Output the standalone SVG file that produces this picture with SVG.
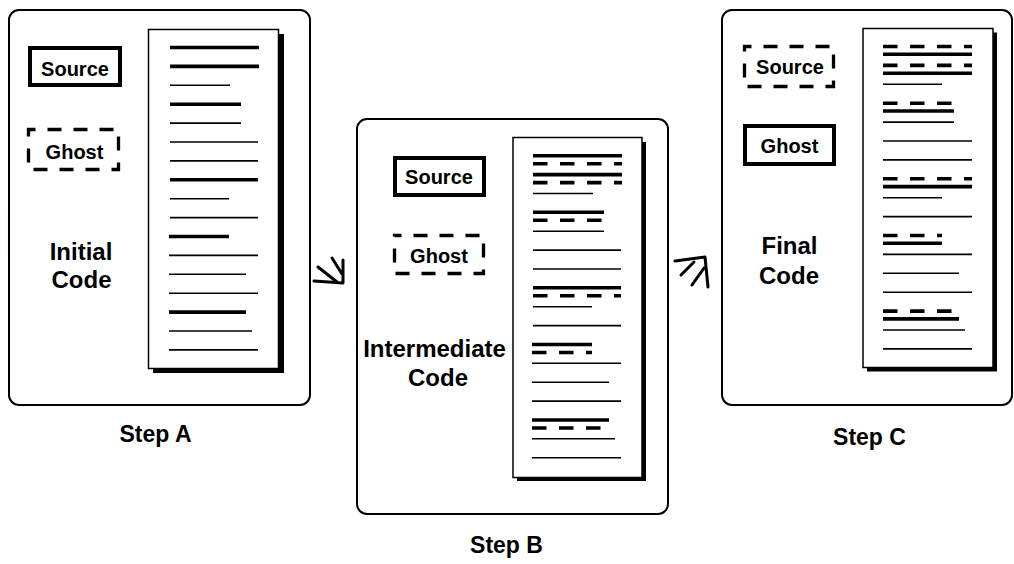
<svg xmlns="http://www.w3.org/2000/svg" width="1014" height="564" viewBox="0 0 1014 564">
  <style>
    .frame { fill: #fff; stroke: #000; stroke-width: 2; }
    .page { fill: #fff; stroke: #000; stroke-width: 1.5; }
    .shadow { fill: #000; }
    .solidbox { fill: #fff; stroke: #000; stroke-width: 4; }
    .dashbox { fill: #fff; stroke: #000; stroke-width: 3.3; stroke-dasharray: 14 12; stroke-dashoffset: 7; }
    .thick { stroke: #000; stroke-width: 3.6; }
    .thin { stroke: #000; stroke-width: 1.6; }
    .dash { stroke: #000; stroke-width: 3.6; stroke-dasharray: 14.5 12.5; }
    .t { font-family: "Liberation Sans", Arial, Helvetica, sans-serif; font-weight: bold; fill: #000; text-anchor: middle; }
    .box { font-size: 20px; }
    .big { font-size: 24px; }
    .cap { font-size: 23px; }
    .arrow { fill: none; stroke: #000; stroke-width: 3; stroke-linecap: round; stroke-linejoin: round; }
  </style>
  <rect width="1014" height="564" fill="#fff"/>

  <!-- Step A: initial code -->
  <g id="step-a">
    <rect class="frame" x="9" y="10" width="301" height="395" rx="10"/>
    <rect class="solidbox" x="30" y="48" width="90" height="37"/>
    <text class="t box" x="75" y="76">Source</text>
    <rect class="dashbox" x="28.5" y="129.5" width="90" height="40"/>
    <text class="t box" x="74.5" y="159">Ghost</text>
    <text class="t big" x="81" y="260">Initial</text>
    <text class="t big" x="81.5" y="288">Code</text>
    <rect class="shadow" x="153" y="34" width="131" height="339"/>
    <rect class="page" x="148.5" y="29.5" width="130" height="339"/>
    <g>
      <line class="thick" x1="170" y1="47.5" x2="259" y2="47.5"/>
      <line class="thick" x1="170" y1="66.4" x2="259" y2="66.4"/>
      <line class="thin" x1="170" y1="85.3" x2="230" y2="85.3"/>
      <line class="thick" x1="170" y1="104.2" x2="241" y2="104.2"/>
      <line class="thin" x1="170" y1="123.1" x2="241" y2="123.1"/>
      <line class="thin" x1="170" y1="142" x2="258" y2="142"/>
      <line class="thin" x1="170" y1="160.9" x2="258" y2="160.9"/>
      <line class="thick" x1="170" y1="179.8" x2="258" y2="179.8"/>
      <line class="thin" x1="170" y1="198.7" x2="229" y2="198.7"/>
      <line class="thin" x1="170" y1="217.6" x2="258" y2="217.6"/>
      <line class="thick" x1="169" y1="236.5" x2="229" y2="236.5"/>
      <line class="thin" x1="169" y1="255.4" x2="258" y2="255.4"/>
      <line class="thin" x1="169" y1="274.3" x2="246" y2="274.3"/>
      <line class="thin" x1="169" y1="293.2" x2="258" y2="293.2"/>
      <line class="thick" x1="169" y1="312.1" x2="246" y2="312.1"/>
      <line class="thin" x1="169" y1="331" x2="252" y2="331"/>
      <line class="thin" x1="169" y1="349.9" x2="258" y2="349.9"/>
    </g>
    <text class="t cap" x="155.5" y="442">Step A</text>
  </g>

  <!-- Step B: intermediate code -->
  <g id="step-b">
    <rect class="frame" x="357" y="119" width="311" height="395" rx="10"/>
    <rect class="solidbox" x="395" y="158" width="89" height="37"/>
    <text class="t box" x="439" y="184">Source</text>
    <rect class="dashbox" x="394.5" y="235.5" width="89" height="38"/>
    <text class="t box" x="439" y="263">Ghost</text>
    <text class="t big" x="434.5" y="357">Intermediate</text>
    <text class="t big" x="438" y="386">Code</text>
    <rect class="shadow" x="517" y="142" width="129" height="339"/>
    <rect class="page" x="513" y="137.5" width="129" height="340"/>
    <g>
      <line class="thick" x1="533" y1="155.7" x2="622" y2="155.7"/>
      <line class="dash" x1="533" y1="163.7" x2="622" y2="163.7"/>
      <line class="thick" x1="533" y1="174.6" x2="622" y2="174.6"/>
      <line class="dash" x1="533" y1="182.6" x2="622" y2="182.6"/>
      <line class="thin" x1="533" y1="193.5" x2="593" y2="193.5"/>
      <line class="thick" x1="533" y1="212.3" x2="604" y2="212.3"/>
      <line class="dash" x1="533" y1="220.3" x2="604" y2="220.3"/>
      <line class="thin" x1="533" y1="231.2" x2="604" y2="231.2"/>
      <line class="thin" x1="533" y1="250.1" x2="621" y2="250.1"/>
      <line class="thin" x1="533" y1="269" x2="621" y2="269"/>
      <line class="thick" x1="533" y1="287.8" x2="621" y2="287.8"/>
      <line class="dash" x1="533" y1="295.8" x2="621" y2="295.8"/>
      <line class="thin" x1="533" y1="306.7" x2="592" y2="306.7"/>
      <line class="thin" x1="533" y1="325.6" x2="621" y2="325.6"/>
      <line class="thick" x1="532" y1="344.5" x2="592" y2="344.5"/>
      <line class="dash" x1="532" y1="352.5" x2="592" y2="352.5"/>
      <line class="thin" x1="532" y1="363.3" x2="621" y2="363.3"/>
      <line class="thin" x1="532" y1="382.2" x2="609" y2="382.2"/>
      <line class="thin" x1="532" y1="401.1" x2="621" y2="401.1"/>
      <line class="thick" x1="532" y1="420" x2="609" y2="420"/>
      <line class="dash" x1="532" y1="428" x2="609" y2="428"/>
      <line class="thin" x1="532" y1="438.8" x2="615" y2="438.8"/>
      <line class="thin" x1="532" y1="457.7" x2="621" y2="457.7"/>
    </g>
    <text class="t cap" x="506.5" y="553">Step B</text>
  </g>

  <!-- Step C: final code -->
  <g id="step-c">
    <rect class="frame" x="722" y="10" width="290" height="395" rx="10"/>
    <rect class="dashbox" x="744.5" y="46.5" width="89" height="40"/>
    <text class="t box" x="790" y="74">Source</text>
    <rect class="solidbox" x="745" y="126" width="89" height="38"/>
    <text class="t box" x="789.5" y="153">Ghost</text>
    <text class="t big" x="789.5" y="254">Final</text>
    <text class="t big" x="789" y="284">Code</text>
    <rect class="shadow" x="867" y="32.5" width="130" height="339"/>
    <rect class="page" x="863" y="28.5" width="130" height="339"/>
    <g>
      <line class="dash" x1="883" y1="46.5" x2="972" y2="46.5"/>
      <line class="thick" x1="883" y1="54.3" x2="972" y2="54.3"/>
      <line class="dash" x1="883" y1="65.4" x2="972" y2="65.4"/>
      <line class="thick" x1="883" y1="73.2" x2="972" y2="73.2"/>
      <line class="thin" x1="883" y1="84.3" x2="942" y2="84.3"/>
      <line class="dash" x1="883" y1="103.2" x2="954" y2="103.2"/>
      <line class="thick" x1="883" y1="111" x2="954" y2="111"/>
      <line class="thin" x1="883" y1="122.1" x2="954" y2="122.1"/>
      <line class="thin" x1="883" y1="141" x2="972" y2="141"/>
      <line class="thin" x1="883" y1="159.9" x2="972" y2="159.9"/>
      <line class="dash" x1="883" y1="178.8" x2="972" y2="178.8"/>
      <line class="thick" x1="883" y1="186.6" x2="972" y2="186.6"/>
      <line class="thin" x1="883" y1="197.7" x2="942" y2="197.7"/>
      <line class="thin" x1="883" y1="216.6" x2="972" y2="216.6"/>
      <line class="dash" x1="883" y1="235.5" x2="942" y2="235.5"/>
      <line class="thick" x1="883" y1="243.3" x2="942" y2="243.3"/>
      <line class="thin" x1="883" y1="254.4" x2="972" y2="254.4"/>
      <line class="thin" x1="883" y1="273.3" x2="959" y2="273.3"/>
      <line class="thin" x1="883" y1="292.2" x2="972" y2="292.2"/>
      <line class="dash" x1="883" y1="311.1" x2="959" y2="311.1"/>
      <line class="thick" x1="883" y1="318.9" x2="959" y2="318.9"/>
      <line class="thin" x1="883" y1="330" x2="965" y2="330"/>
      <line class="thin" x1="883" y1="348.9" x2="972" y2="348.9"/>
    </g>
    <text class="t cap" x="869.5" y="445">Step C</text>
  </g>

  <!-- Hand-drawn transition arrows between the steps -->
  <g id="connectors">
    <path class="arrow" d="M314,281 L343,283 L343,260 M318,267 L337,282 M332,258 L342,274"/>
    <path class="arrow" d="M675,261 L705,257 L708,287 M681,275 L694,262 M692,285 L704,268"/>
  </g>
</svg>
